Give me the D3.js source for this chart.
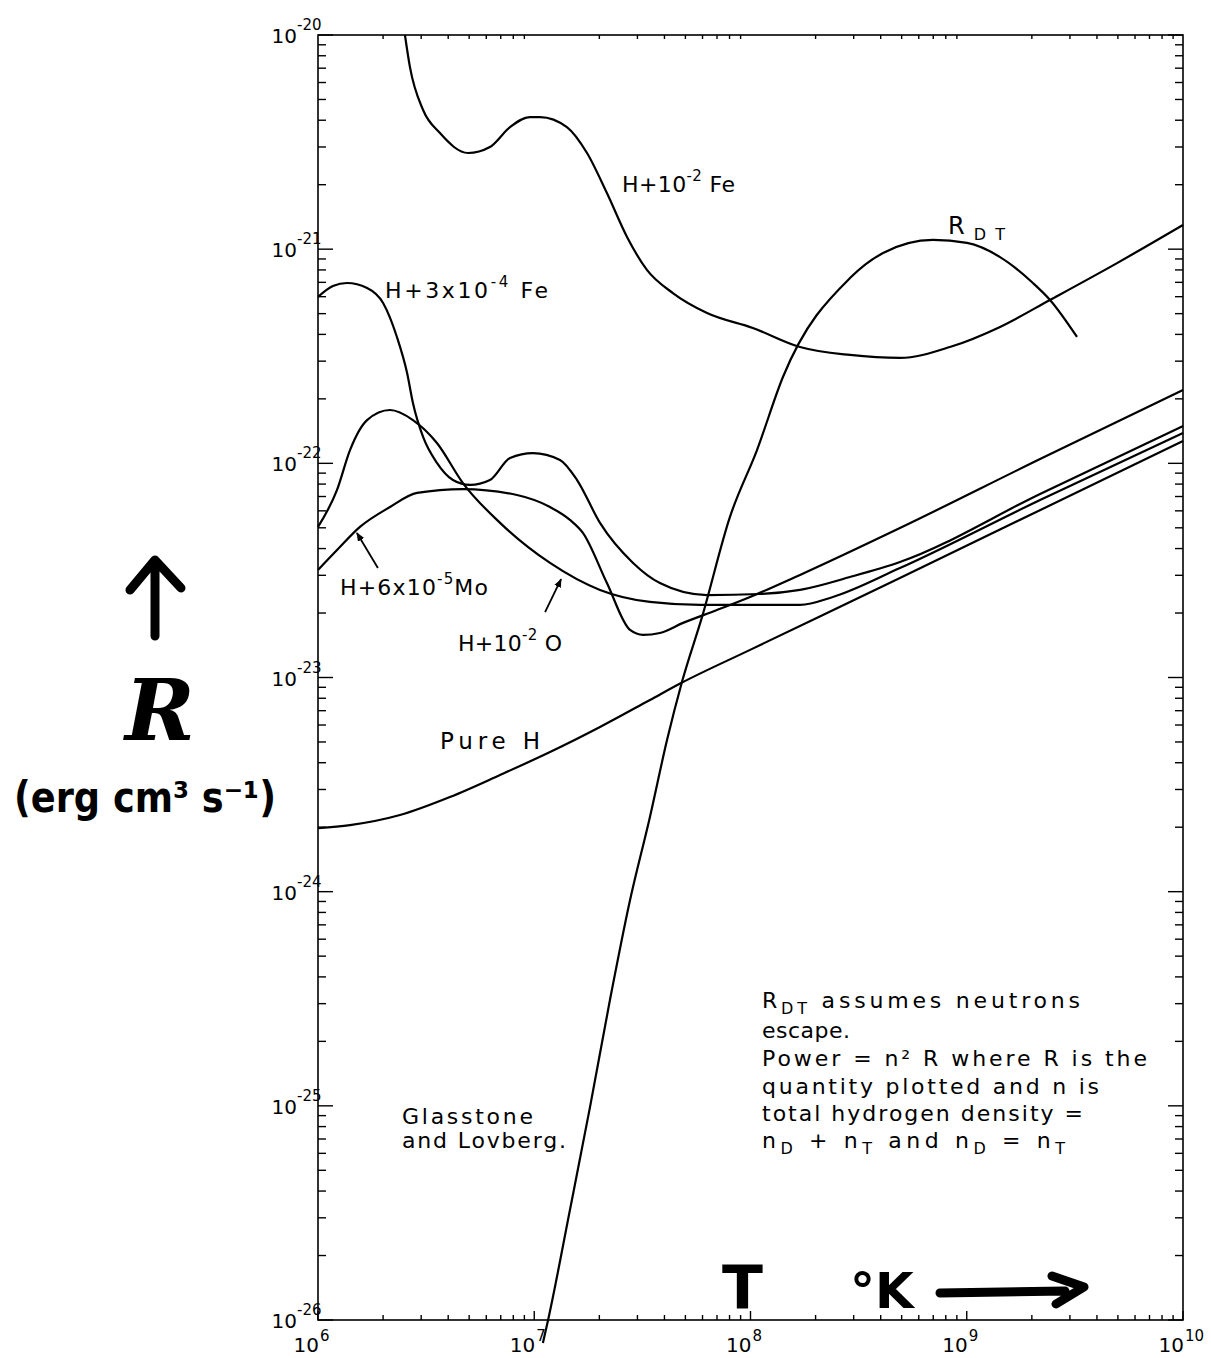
<!DOCTYPE html>
<html><head><meta charset="utf-8">
<script src="https://cdn.jsdelivr.net/npm/d3@7"></script>
<style>body{margin:0;background:#fff}</style>
</head><body><svg id="c" width="1211" height="1358"></svg>
<script>
// ---- axis decades (log10) ----
const xDecades=[6,7,8,9,10];
const yDecades=[-26,-25,-24,-23,-22,-21,-20];

// ---- series: log10 T and log10 R ----
const feHiLogT=[6.402,6.425,6.486,6.564,6.694,6.795,6.888,6.980,7.027,7.151,7.244,7.336,7.429,7.521,7.641,7.799,8.011,8.229,8.460,8.691,8.922,9.154,9.385,9.695,10.0];
const feHiLogR=[-20.000,-20.149,-20.350,-20.458,-20.551,-20.523,-20.430,-20.383,-20.383,-20.430,-20.551,-20.738,-20.943,-21.097,-21.205,-21.298,-21.368,-21.457,-21.494,-21.508,-21.457,-21.363,-21.237,-21.065,-20.887];

const rdtLogT=[7.040,7.064,7.165,7.258,7.350,7.443,7.535,7.614,7.683,7.776,7.905,8.030,8.150,8.460,8.613,8.844,9.001,9.154,9.306,9.385,9.510];
const rdtLogR=[-26.107,-26.000,-25.486,-25.005,-24.506,-24.039,-23.651,-23.292,-23.021,-22.717,-22.250,-21.938,-21.597,-21.135,-21.018,-20.957,-20.971,-21.037,-21.158,-21.237,-21.410];

const feLoLogT=[6.000,6.069,6.134,6.227,6.301,6.365,6.412,6.439,6.486,6.550,6.624,6.703,6.795,6.888,6.994,7.119,7.198,7.304,7.457,7.581,7.799,8.044,8.229,8.460,8.691,9.339,10.0];
const feLoLogR=[-21.223,-21.172,-21.158,-21.181,-21.251,-21.410,-21.578,-21.718,-21.877,-21.998,-22.078,-22.101,-22.078,-21.975,-21.952,-21.984,-22.078,-22.278,-22.465,-22.559,-22.615,-22.610,-22.591,-22.531,-22.461,-22.143,-21.826];

const oxLogT=[6.000,6.088,6.148,6.227,6.333,6.439,6.550,6.670,6.842,7.073,7.304,7.535,7.767,7.998,8.229,8.381,8.691,9.339,10.0];
const oxLogR=[-22.297,-22.124,-21.938,-21.798,-21.751,-21.798,-21.905,-22.092,-22.278,-22.465,-22.591,-22.647,-22.661,-22.661,-22.661,-22.624,-22.489,-22.171,-21.858];

const moLogT=[6.000,6.088,6.194,6.333,6.458,6.670,6.920,7.073,7.165,7.225,7.336,7.443,7.503,7.581,7.688,7.845,7.998,8.229,8.691,9.339,10.0];
const moLogR=[-22.498,-22.405,-22.297,-22.204,-22.138,-22.120,-22.148,-22.204,-22.264,-22.325,-22.559,-22.778,-22.801,-22.792,-22.745,-22.685,-22.624,-22.521,-22.302,-21.980,-21.658];

const pureHLogT=[6.000,6.148,6.379,6.610,6.842,7.073,7.304,7.535,7.679,7.998,8.691,10.0];
const pureHLogR=[-23.703,-23.689,-23.642,-23.558,-23.455,-23.348,-23.231,-23.105,-23.026,-22.871,-22.535,-21.896];

// arrows for labels (log T, log R): tail -> tip
const moArrowLogT=[6.277,6.180], moArrowLogR=[-22.489,-22.325];
const oxArrowLogT=[7.050,7.124], oxArrowLogR=[-22.695,-22.541];

const noteLines=["R_DT  assumes  neutrons","escape.","Power = n² R  where  R  is  the","quantity  plotted  and  n  is","total  hydrogen density =","n_D + n_T and  n_D = n_T"];

// ---- build ----
const svg=d3.select("#c");
const L=318,Rr=1183,T=35,B=1320;
const x=d3.scaleLog().domain([1e6,1e10]).range([L,Rr]);
const y=d3.scaleLog().domain([1e-26,1e-20]).range([B,T]);
const font="'DejaVu Sans', sans-serif";

const mk=(lt,lr)=>lt.map((t,i)=>({T:Math.pow(10,t),R:Math.pow(10,lr[i])}));
const series=[mk(feHiLogT,feHiLogR),mk(rdtLogT,rdtLogR),mk(feLoLogT,feLoLogR),mk(oxLogT,oxLogR),mk(moLogT,moLogR),mk(pureHLogT,pureHLogR)];

// frame
svg.append("rect").attr("x",L).attr("y",T).attr("width",Rr-L).attr("height",B-T)
  .attr("fill","none").attr("stroke","#000").attr("stroke-width",1.6);

// ticks
const g=svg.append("g").attr("stroke","#000").attr("stroke-width",1.4);
yDecades.forEach((d,i)=>{
  const yy=y(Math.pow(10,d));
  g.append("line").attr("x1",L).attr("x2",L+15).attr("y1",yy).attr("y2",yy);
  g.append("line").attr("x1",Rr).attr("x2",Rr-15).attr("y1",yy).attr("y2",yy);
  if(i<yDecades.length-1){
    for(let m=2;m<=9;m++){
      const ym=y(m*Math.pow(10,d));
      g.append("line").attr("x1",L).attr("x2",L+8).attr("y1",ym).attr("y2",ym);
      g.append("line").attr("x1",Rr).attr("x2",Rr-8).attr("y1",ym).attr("y2",ym);
    }
  }
});
xDecades.forEach((d,i)=>{
  const xx=x(Math.pow(10,d));
  g.append("line").attr("x1",xx).attr("x2",xx).attr("y1",B).attr("y2",B-9);
  if(i<xDecades.length-1){
    for(let m=2;m<=9;m++){
      const xm=x(m*Math.pow(10,d));
      g.append("line").attr("x1",xm).attr("x2",xm).attr("y1",B).attr("y2",B-5);
      g.append("line").attr("x1",xm).attr("x2",xm).attr("y1",T).attr("y2",T+4);
    }
  }
});

// tick labels
yDecades.forEach(d=>{
  const yy=y(Math.pow(10,d));
  svg.append("text").attr("x",297).attr("y",yy+8).attr("text-anchor","end")
    .attr("font-family",font).attr("font-size",20).text("10");
  svg.append("text").attr("x",297).attr("y",yy-5).attr("text-anchor","start")
    .attr("font-family",font).attr("font-size",15).text(String(d));
});
xDecades.forEach(d=>{
  const xx=x(Math.pow(10,d));
  svg.append("text").attr("x",xx+1).attr("y",1352).attr("text-anchor","end")
    .attr("font-family",font).attr("font-size",20).text("10");
  svg.append("text").attr("x",xx+2).attr("y",1341).attr("text-anchor","start")
    .attr("font-family",font).attr("font-size",15).text(String(d));
});

// curves
const line=d3.line().x(d=>x(d.T)).y(d=>y(d.R)).curve(d3.curveMonotoneX);
svg.append("g").selectAll("path").data(series).join("path")
  .attr("d",line).attr("fill","none").attr("stroke","#000").attr("stroke-width",2.2)
  .attr("stroke-linejoin","round");

// arrows
svg.append("defs").append("marker").attr("id","ah").attr("viewBox","0 0 10 10")
  .attr("refX",9).attr("refY",5).attr("markerWidth",9).attr("markerHeight",9)
  .attr("markerUnits","userSpaceOnUse").attr("orient","auto")
  .append("path").attr("d","M0,1 L10,5 L0,9 Z").attr("fill","#000");
[[moArrowLogT,moArrowLogR],[oxArrowLogT,oxArrowLogR]].forEach(([lt,lr])=>{
  const p=mk(lt,lr);
  svg.append("line").attr("x1",x(p[0].T)).attr("y1",y(p[0].R)).attr("x2",x(p[1].T)).attr("y2",y(p[1].R))
    .attr("stroke","#000").attr("stroke-width",1.8).attr("marker-end","url(#ah)");
});

// curve labels
function label(xp,yp,parts,len,fs){
  fs=fs||22;
  const t=svg.append("text").attr("x",xp).attr("y",yp).attr("font-family",font).attr("font-size",fs);
  parts.forEach(p=>{
    const s=t.append("tspan").text(p[0]);
    if(p[1]==="sup") s.attr("font-size",15).attr("dy",-11);
    else if(p[1]==="sub") s.attr("font-size",16).attr("dy",6);
    else if(p[1]==="base") s.attr("dy",p[2]);
  });
  if(len) t.attr("textLength",len).attr("lengthAdjust","spacing");
  return t;
}
label(622,192,[["H+10"],["-2","sup"],[" Fe","base",11]],113);
label(948,234,[["R"],["DT","sub"]],57,24);
label(385,298,[["H+3x10"],["-4","sup"],[" Fe","base",11]],163);
label(340,595,[["H+6x10"],["-5","sup"],["Mo","base",11]],148);
label(458,651,[["H+10"],["-2","sup"],[" O","base",11]],104);
label(440,749,[["Pure H"]],100,23);

// note block
const noteX=762, noteY=[1008,1038,1066,1094,1121,1148], noteW=[318,88,385,337,321,303];
noteLines.forEach((s,i)=>{
  const t=svg.append("text").attr("x",noteX).attr("y",noteY[i]).attr("font-family",font).attr("font-size",22);
  let re=/(_DT|_D|_T)/g, last=0, m, shift=0;
  while((m=re.exec(s))!==null){
    const pre=s.slice(last,m.index);
    if(pre.length){ const a=t.append("tspan").text(pre); if(shift){a.attr("dy",-shift); shift=0;} }
    t.append("tspan").attr("font-size",16).attr("dy",6).text(m[0].slice(1));
    shift=6;
    last=m.index+m[0].length;
  }
  const rest=s.slice(last);
  if(rest.length){ const a=t.append("tspan").text(rest); if(shift) a.attr("dy",-shift); }
  t.attr("textLength",noteW[i]).attr("lengthAdjust","spacing");
});
svg.append("text").attr("x",402).attr("y",1124).attr("font-family",font).attr("font-size",22)
  .attr("textLength",131).attr("lengthAdjust","spacing").text("Glasstone");
svg.append("text").attr("x",402).attr("y",1148).attr("font-family",font).attr("font-size",22)
  .attr("textLength",164).attr("lengthAdjust","spacing").text("and Lovberg.");

// handwritten axis titles
const hw=svg.append("g").attr("stroke","#000").attr("stroke-width",9).attr("fill","none")
  .attr("stroke-linecap","round").attr("stroke-linejoin","round");
hw.append("path").attr("d","M155,636 L155,562 M130,590 L155,560 L181,588");
hw.append("path").attr("d","M940,1293 L1065,1291 M1052,1276 L1084,1287 L1056,1304");
svg.append("text").attr("x",160).attr("y",740).attr("text-anchor","middle")
  .attr("font-family","'DejaVu Serif', serif").attr("font-style","italic").attr("font-weight","bold")
  .attr("font-size",84).text("R");
svg.append("text").attr("x",14).attr("y",812).attr("font-family",font).attr("font-weight","bold")
  .attr("font-size",42).attr("textLength",262).attr("lengthAdjust","spacingAndGlyphs").text("(erg cm³ s⁻¹)");
svg.append("text").attr("x",722).attr("y",1309).attr("font-family",font).attr("font-weight","bold")
  .attr("font-size",60).text("T");
svg.append("text").attr("x",850).attr("y",1308).attr("font-family",font).attr("font-weight","bold")
  .attr("font-size",50).text("°K");
</script></body></html>
